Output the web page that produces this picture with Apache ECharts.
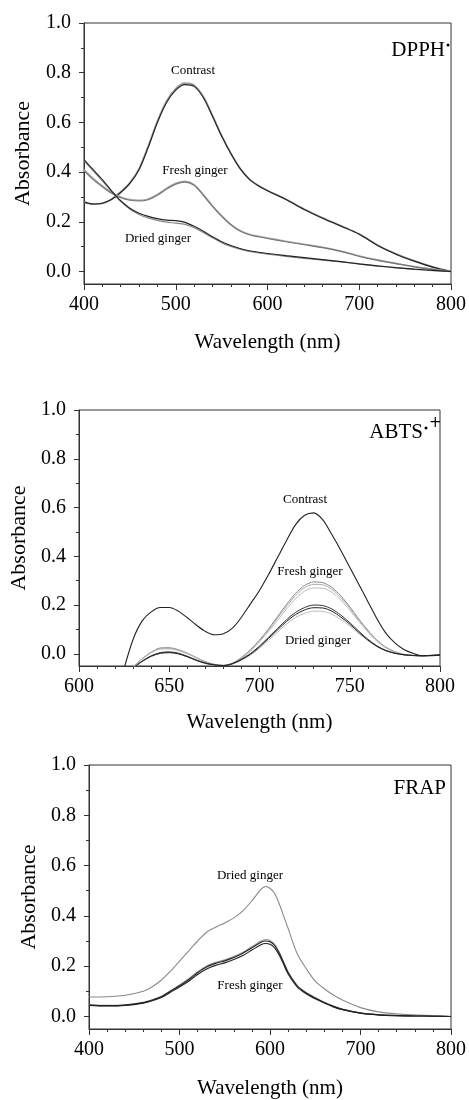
<!DOCTYPE html>
<html>
<head>
<meta charset="utf-8">
<script src="https://cdn.jsdelivr.net/npm/echarts@6/dist/echarts.min.js"></script>
<style>html,body{margin:0;padding:0;background:#fff}#c{width:469px;height:1100px}</style>
</head>
<body>
<div id="c"></div>
<script>
// ---------- DPPH ----------
var dpphWl = [400,410,420,430,440,450,460,470,480,490,500,510,520,530,540,550,560,570,580,590,600,620,640,660,680,700,720,740,760,780,800];
var dpphContrastA = [0.280,0.272,0.275,0.290,0.318,0.355,0.410,0.500,0.600,0.680,0.730,0.752,0.745,0.700,0.625,0.545,0.475,0.415,0.372,0.345,0.325,0.290,0.250,0.215,0.183,0.150,0.105,0.070,0.042,0.018,0.000];
var dpphContrastB = [0.279,0.271,0.274,0.291,0.320,0.357,0.413,0.504,0.604,0.685,0.736,0.758,0.750,0.704,0.628,0.547,0.476,0.416,0.373,0.346,0.326,0.291,0.251,0.216,0.184,0.151,0.106,0.071,0.043,0.019,0.000];
var dpphFreshA = [0.410,0.375,0.345,0.318,0.300,0.290,0.287,0.292,0.310,0.335,0.355,0.363,0.350,0.310,0.265,0.225,0.190,0.165,0.150,0.142,0.135,0.122,0.110,0.098,0.083,0.063,0.047,0.033,0.020,0.010,0.000];
var dpphFreshB = [0.405,0.370,0.341,0.315,0.297,0.287,0.284,0.289,0.307,0.332,0.352,0.360,0.347,0.307,0.262,0.222,0.188,0.163,0.148,0.140,0.133,0.120,0.108,0.096,0.081,0.061,0.045,0.032,0.019,0.009,0.000];
var dpphDriedA = [0.450,0.410,0.370,0.325,0.285,0.255,0.235,0.222,0.213,0.207,0.205,0.198,0.182,0.162,0.140,0.120,0.105,0.093,0.084,0.078,0.073,0.064,0.056,0.048,0.040,0.031,0.023,0.016,0.010,0.005,0.000];
var dpphDriedB = [0.445,0.405,0.365,0.322,0.282,0.251,0.230,0.216,0.206,0.199,0.195,0.190,0.176,0.157,0.136,0.116,0.101,0.090,0.081,0.075,0.070,0.061,0.053,0.046,0.039,0.030,0.022,0.015,0.009,0.004,0.000];

// ---------- ABTS ----------
var abtsWl = [625,630,635,640,645,650,655,660,665,670,675,680,685,690,695,700,705,710,715,720,725,730,735,740,745,750,755,760,765,770,775,780,785,790,795,800];
var abtsContrast = [-0.060,0.060,0.135,0.172,0.190,0.190,0.175,0.148,0.118,0.092,0.078,0.082,0.105,0.150,0.205,0.260,0.325,0.395,0.465,0.530,0.568,0.578,0.550,0.490,0.425,0.355,0.285,0.215,0.145,0.085,0.045,0.018,0.002,-0.008,-0.006,-0.004];
var abtsFreshA = [-0.120,-0.055,-0.020,0.007,0.024,0.025,0.017,0.003,-0.015,-0.032,-0.043,-0.047,-0.038,-0.015,0.017,0.057,0.102,0.153,0.203,0.248,0.280,0.295,0.292,0.273,0.238,0.193,0.143,0.097,0.057,0.027,0.009,-0.002,-0.006,-0.008,-0.008,-0.006];
var abtsFreshB = [-0.120,-0.056,-0.021,0.005,0.021,0.022,0.015,0.001,-0.016,-0.033,-0.044,-0.048,-0.039,-0.017,0.014,0.053,0.097,0.147,0.195,0.239,0.271,0.285,0.283,0.265,0.231,0.187,0.139,0.094,0.055,0.026,0.008,-0.003,-0.007,-0.008,-0.008,-0.006];
var abtsFreshC = [-0.120,-0.057,-0.022,0.004,0.019,0.020,0.013,0.000,-0.017,-0.034,-0.045,-0.048,-0.040,-0.019,0.011,0.049,0.091,0.138,0.184,0.226,0.257,0.270,0.269,0.253,0.221,0.179,0.133,0.090,0.052,0.024,0.007,-0.003,-0.007,-0.008,-0.008,-0.006];
var abtsDriedA = [-0.120,-0.060,-0.030,-0.008,0.005,0.008,0.003,-0.010,-0.025,-0.037,-0.045,-0.048,-0.040,-0.022,0.001,0.032,0.068,0.104,0.140,0.170,0.190,0.200,0.198,0.184,0.159,0.128,0.093,0.060,0.033,0.014,0.003,-0.004,-0.007,-0.008,-0.007,-0.006];
var abtsDriedB = [-0.120,-0.061,-0.031,-0.010,0.002,0.005,0.000,-0.012,-0.027,-0.039,-0.046,-0.049,-0.041,-0.024,-0.002,0.028,0.063,0.098,0.133,0.161,0.180,0.189,0.188,0.175,0.151,0.122,0.088,0.057,0.031,0.013,0.002,-0.004,-0.007,-0.008,-0.007,-0.006];
var abtsDriedC = [-0.120,-0.062,-0.032,-0.011,0.001,0.004,-0.001,-0.013,-0.028,-0.040,-0.047,-0.049,-0.042,-0.026,-0.005,0.023,0.056,0.089,0.122,0.149,0.166,0.175,0.174,0.163,0.141,0.114,0.083,0.054,0.029,0.012,0.002,-0.004,-0.007,-0.008,-0.007,-0.006];

// ---------- FRAP ----------
var frapWl = [400,420,440,460,470,480,490,500,510,520,530,540,550,560,570,580,590,595,600,605,610,615,620,630,640,650,660,670,680,700,720,740,760,780,800];
var frapDried = [0.077,0.078,0.084,0.100,0.118,0.145,0.180,0.220,0.260,0.300,0.335,0.355,0.372,0.392,0.420,0.460,0.505,0.517,0.510,0.490,0.450,0.400,0.350,0.250,0.190,0.140,0.110,0.085,0.065,0.035,0.018,0.010,0.006,0.003,0.000];
var frapFreshA = [0.046,0.044,0.046,0.056,0.066,0.080,0.102,0.125,0.150,0.178,0.201,0.215,0.225,0.238,0.255,0.278,0.300,0.306,0.302,0.288,0.258,0.218,0.178,0.125,0.095,0.075,0.056,0.041,0.029,0.014,0.007,0.004,0.002,0.001,0.000];
var frapFreshB = [0.045,0.043,0.045,0.055,0.065,0.078,0.100,0.122,0.146,0.174,0.197,0.211,0.221,0.234,0.251,0.273,0.295,0.300,0.297,0.283,0.253,0.214,0.175,0.122,0.093,0.073,0.055,0.040,0.028,0.013,0.006,0.003,0.002,0.001,0.000];
var frapFreshC = [0.044,0.042,0.044,0.053,0.062,0.075,0.096,0.117,0.140,0.167,0.189,0.203,0.213,0.226,0.242,0.264,0.285,0.290,0.287,0.274,0.245,0.207,0.169,0.118,0.090,0.070,0.053,0.038,0.027,0.013,0.006,0.003,0.002,0.001,0.000];

var majorY = [0,0.2,0.4,0.6,0.8,1.0];
var minorY = [0.1,0.3,0.5,0.7,0.9];

function zip(xs, ys){ return xs.map(function(x,i){ return [x, ys[i]]; }); }

var FONT = 'Liberation Serif';
var grids = [
  {left:84, top:23, width:367, height:261},
  {left:79, top:410, width:361, height:256},
  {left:89, top:765, width:364, height:265}
];
var xRanges = [[400,800,100],[600,800,50],[400,800,100]];
var nameGapsY = [50, 48, 48];
var nameGapsX = [48, 46, 49];

var option = {
  animation:false,
  backgroundColor:'#fff',
  grid: grids.map(function(g){ return Object.assign({show:true, borderColor:'#333', borderWidth:1, backgroundColor:'transparent'}, g); }),
  xAxis: xRanges.map(function(r,i){ return {
    type:'value', gridIndex:i, min:r[0], max:r[1], interval:r[2],
    name:'Wavelength (nm)', nameLocation:'middle', nameGap:nameGapsX[i],
    nameTextStyle:{fontFamily:FONT, fontSize:21, color:'#000'},
    axisLine:{show:true, onZero:false, lineStyle:{color:'#333', width:1}},
    axisTick:{show:true, inside:false, length:6, lineStyle:{color:'#333'}},
    minorTick:{show:true, splitNumber:5, length:3, lineStyle:{color:'#333'}},
    axisLabel:{fontFamily:FONT, fontSize:20, color:'#000', margin:11},
    splitLine:{show:false}, minorSplitLine:{show:false}
  }; }),
  yAxis: [],
  series: [],
  graphic: []
};

[0,1,2].forEach(function(i){
  option.yAxis.push({
    type:'value', gridIndex:i, min:-0.05, max:1.0,
    name:'Absorbance', nameLocation:'middle', nameGap:nameGapsY[i],
    nameTextStyle:{fontFamily:FONT, fontSize:22, color:'#000'},
    axisLine:{show:true, onZero:false, lineStyle:{color:'#333', width:1}},
    axisTick:{show:true, inside:false, length:5, customValues:majorY, lineStyle:{color:'#333'}},
    axisLabel:{fontFamily:FONT, fontSize:20, color:'#000', margin:13, customValues:majorY,
      formatter:function(v){ return (+v).toFixed(1); }},
    splitLine:{show:false}
  });
  option.yAxis.push({
    type:'value', gridIndex:i, min:-0.05, max:1.0, position:'left',
    axisLine:{show:false},
    axisTick:{show:true, inside:false, length:3, customValues:minorY, lineStyle:{color:'#333'}},
    axisLabel:{show:false},
    splitLine:{show:false}
  });
});

function line(gi, xs, ys, color, w){
  return {type:'line', xAxisIndex:gi, yAxisIndex:gi*2, data:zip(xs,ys), showSymbol:false, symbol:'none',
    smooth:0.3, clip:true, lineStyle:{color:color, width:w||1.1}, silent:true};
}

option.series.push(
  line(0, dpphWl, dpphContrastB, '#9a9a9a', 1.8),
  line(0, dpphWl, dpphContrastA, '#222', 1.1),
  line(0, dpphWl, dpphFreshA, '#aaaaaa', 1.6),
  line(0, dpphWl, dpphFreshB, '#777', 1.2),
  line(0, dpphWl, dpphDriedB, '#888', 1.1),
  line(0, dpphWl, dpphDriedA, '#222', 1.1),

  line(1, abtsWl, abtsFreshA, '#888', 1.0),
  line(1, abtsWl, abtsFreshB, '#aaa', 1.0),
  line(1, abtsWl, abtsFreshC, '#bbb', 1.0),
  line(1, abtsWl, abtsDriedC, '#bbb', 1.0),
  line(1, abtsWl, abtsDriedA, '#333', 1.0),
  line(1, abtsWl, abtsDriedB, '#222', 1.0),
  line(1, abtsWl, abtsContrast, '#222', 1.1),

  line(2, frapWl, frapDried, '#8a8a8a', 1.1),
  line(2, frapWl, frapFreshA, '#999', 1.1),
  line(2, frapWl, frapFreshB, '#222', 1.1),
  line(2, frapWl, frapFreshC, '#222', 1.1)
);

function txt(x, y, s, size, align){
  return {type:'text', x:x, y:y, style:{text:s, fontFamily:FONT, fontSize:size, fill:'#000', align:align||'center', verticalAlign:'middle'}, silent:true};
}
function dot(x, y){
  return {type:'circle', shape:{cx:x, cy:y, r:1.5}, style:{fill:'#000'}, silent:true};
}
option.graphic = [
  txt(445, 50, 'DPPH', 21, 'right'),
  dot(448, 45),
  txt(193, 71, 'Contrast', 13),
  txt(195, 171, 'Fresh ginger', 13),
  txt(158, 239, 'Dried ginger', 13),

  txt(423, 432, 'ABTS', 21, 'right'),
  dot(426, 428),
  {type:'text', x:429, y:423, style:{text:'+', fontFamily:'DejaVu Sans', fontSize:15, fill:'#000', align:'left', verticalAlign:'middle'}, silent:true},
  txt(305, 500, 'Contrast', 13),
  txt(310, 572, 'Fresh ginger', 13),
  txt(318, 641, 'Dried ginger', 13),

  txt(446, 788, 'FRAP', 21, 'right'),
  txt(250, 876, 'Dried ginger', 13),
  txt(250, 986, 'Fresh ginger', 13)
];

var chart = echarts.init(document.getElementById('c'));
chart.setOption(option);
</script>
</body>
</html>
